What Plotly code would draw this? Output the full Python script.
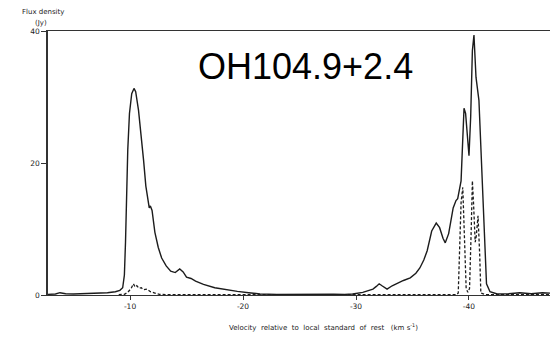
import plotly.graph_objects as go

# Total OH spectrum (solid) : velocity (km/s) and flux density (Jy)
v_total = [-2.74, -3.4, -3.8, -4.3, -5.0, -6.0, -7.0, -8.0, -8.7, -9.1, -9.35, -9.5, -9.6, -9.7,
           -9.8, -9.95, -10.15, -10.35, -10.5, -10.75, -11.0, -11.2, -11.4, -11.6, -11.7, -11.8,
           -11.95, -12.2, -12.5, -12.8, -13.2, -13.6, -14.0, -14.4, -14.7, -15.0, -15.4, -15.8,
           -16.5, -17.5, -18.5, -19.5, -20.5, -21.5, -23.0, -24.0, -25.0, -26.0, -27.0, -28.0,
           -29.0, -29.7, -30.6, -31.5, -31.8, -32.05, -32.3, -32.75, -33.2, -33.65, -34.2, -34.8,
           -35.3, -35.65, -36.0, -36.3, -36.7, -37.1, -37.4, -37.7, -37.9, -38.2, -38.6, -38.85,
           -39.0, -39.3, -39.45, -39.56, -39.7, -39.85, -40.0, -40.15, -40.3, -40.44, -40.62,
           -40.88, -41.1, -41.33, -41.55, -41.86, -42.5, -43.5, -44.5, -45.5, -46.5, -47.5]
f_total = [0.1, 0.15, 0.35, 0.2, 0.15, 0.2, 0.25, 0.35, 0.5, 0.7, 1.1, 3.0, 8.0, 16.0,
           22.0, 27.5, 30.5, 31.3, 30.8, 28.0, 24.0, 20.4, 16.5, 13.8, 13.2, 13.5,
           12.8, 9.5, 7.2, 5.6, 4.4, 3.6, 3.4, 3.95, 3.5, 2.7, 2.5, 2.1,
           1.6, 1.1, 0.8, 0.55, 0.35, 0.15, 0.1, 0.12, 0.1, 0.12, 0.1, 0.12,
           0.1, 0.15, 0.4, 0.9, 1.3, 1.7, 1.4, 0.9, 1.4, 1.8, 2.2, 2.6,
           3.3, 4.1, 5.3, 6.7, 9.7, 10.9, 10.2, 8.6, 7.9, 9.3, 13.2, 14.3,
           14.6, 17.3, 23.4, 28.3, 27.5, 24.0, 21.1, 27.0, 37.0, 39.4, 33.0,
           29.5, 20.8, 9.3, 1.7, 0.5, 0.15, 0.2, 0.35, 0.2, 0.35, 0.25]

# Second spectrum (dashed)
v_dash = [-9.0, -9.5, -9.8, -10.1, -10.3, -10.45, -10.6, -10.8, -11.0, -11.2, -11.5, -11.8,
          -12.2, -12.6, -13.5, -20.0, -30.0, -38.9, -39.05, -39.2, -39.3, -39.45, -39.6,
          -39.75, -39.9, -40.05, -40.2, -40.3, -40.4, -40.55, -40.65, -40.8, -40.95, -41.05,
          -41.5, -47.5]
f_dash = [0.05, 0.1, 0.4, 1.0, 1.7, 1.2, 1.4, 1.0, 1.1, 0.8, 0.9, 0.5,
          0.3, 0.1, 0.05, 0.05, 0.05, 0.05, 0.3, 8.0, 14.0, 16.3, 9.0,
          1.0, 0.4, 1.0, 10.0, 17.3, 14.0, 8.0, 9.0, 12.0, 6.0, 0.3,
          0.05, 0.05]

x_ticks = [-10, -20, -30, -40]
x_ticklabels = ["-10", "-20", "-30", "-40"]
y_ticks = [0, 20, 40]
y_ticklabels = ["0", "20", "40"]

ink = "#1c1c1c"
small_font = dict(family="DejaVu Sans", size=7, color="#222222")
tick_font = dict(family="DejaVu Sans", size=7.5, color="#222222")

fig = go.Figure()
fig.add_trace(go.Scatter(x=v_total, y=f_total, mode="lines",
                         line=dict(color=ink, width=1.4), showlegend=False))
fig.add_trace(go.Scatter(x=v_dash, y=f_dash, mode="lines",
                         line=dict(color=ink, width=1.3, dash="3px,2px"), showlegend=False))

W, H = 550, 337
L, R, T, B = 48, 0, 31, 42
pw, ph = W - L - R, H - T - B


def px(x):
    return (x - L) / pw


def py(y):
    return (H - B - y) / ph


fig.update_layout(
    width=W, height=H,
    margin=dict(l=L, r=R, t=T, b=B),
    paper_bgcolor="white", plot_bgcolor="white",
    xaxis=dict(range=[-2.74, -47.17], tickvals=x_ticks, ticktext=x_ticklabels,
               showgrid=False, zeroline=False, showline=True, mirror=True,
               linecolor="#333333", linewidth=1.2, ticks="outside", ticklen=4,
               tickcolor="#333333", tickwidth=1, tickfont=tick_font),
    yaxis=dict(range=[0, 40], tickvals=y_ticks, ticktext=y_ticklabels,
               showgrid=False, zeroline=False, showline=True,
               linecolor="#333333", linewidth=1.5, ticks="outside", ticklen=5,
               tickcolor="#333333", tickwidth=1, tickfont=tick_font),
    annotations=[
        dict(text="OH104.9+2.4", x=px(305), y=py(66), xref="paper", yref="paper",
             showarrow=False, xanchor="center", yanchor="middle",
             font=dict(family="Liberation Sans", size=36, color="black")),
        dict(text="Flux density", x=px(20), y=py(12), xref="paper", yref="paper",
             showarrow=False, xanchor="left", yanchor="middle", font=small_font),
        dict(text="(Jy)", x=px(33), y=py(23), xref="paper", yref="paper",
             showarrow=False, xanchor="left", yanchor="middle", font=small_font),
        dict(text="Velocity\u00a0\u00a0relative\u00a0\u00a0to\u00a0\u00a0local\u00a0\u00a0standard\u00a0\u00a0of\u00a0\u00a0rest\u00a0\u00a0\u00a0(km\u00a0s<sup>-1</sup>)",
             x=px(323), y=py(327), xref="paper", yref="paper",
             showarrow=False, xanchor="center", yanchor="middle", font=small_font),
    ],
)

fig.write_html("out.html")
